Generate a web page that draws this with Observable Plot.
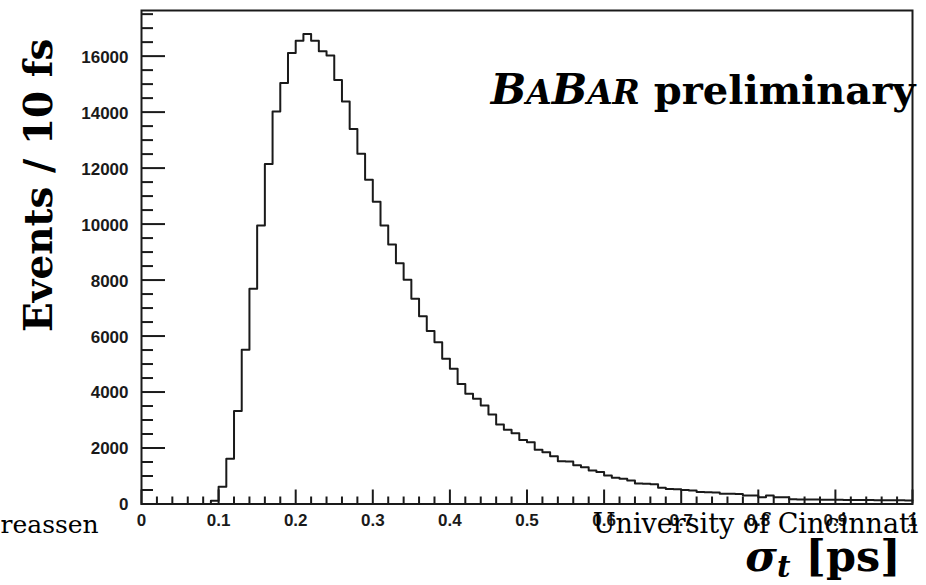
<!DOCTYPE html>
<html><head><meta charset="utf-8">
<script src="https://cdn.jsdelivr.net/npm/d3@7"></script>
<script src="https://cdn.jsdelivr.net/npm/@observablehq/plot@0.6"></script>
<style>
html,body{margin:0;padding:0;background:#fff;}
</style>
</head><body><div id="chart"></div>
<script>
// sigma_t histogram, 100 bins of 10 fs between 0 and 1 ps
const binWidth = 0.01;
const counts = [
  0, 0, 0, 0, 0, 0, 0, 0, 0, 120,
  620, 1620, 3320, 5510, 7690, 9950, 12150, 14020, 15040, 16110,
  16550, 16790, 16550, 16170, 16020, 15150, 14380, 13400, 12510, 11580,
  10800, 9950, 9270, 8600, 8010, 7330, 6710, 6180, 5780, 5190,
  4830, 4290, 3940, 3760, 3520, 3200, 2840, 2650, 2530, 2290,
  2210, 1940, 1850, 1710, 1530, 1520, 1380, 1310, 1200, 1140,
  1020, 935, 900, 840, 730, 720, 710, 580, 540, 530,
  500, 482, 425, 420, 415, 368, 364, 360, 305, 300,
  245, 300, 245, 240, 170, 165, 160, 160, 155, 150,
  150, 145, 145, 140, 140, 135, 135, 130, 130, 125
];
const yMajorTicks = [0, 2000, 4000, 6000, 8000, 10000, 12000, 14000, 16000];
const yTickLabels = ["0", "2000", "4000", "6000", "8000", "10000", "12000", "14000", "16000"];
const yMinorTicks = [500, 1000, 1500, 2500, 3000, 3500, 4500, 5000, 5500, 6500, 7000, 7500,
  8500, 9000, 9500, 10500, 11000, 11500, 12500, 13000, 13500, 14500, 15000, 15500, 16500, 17000, 17500];
const xMajorTicks = [0, 0.1, 0.2, 0.3, 0.4, 0.5, 0.6, 0.7, 0.8, 0.9, 1];
const xTickLabels = ["0", "0.1", "0.2", "0.3", "0.4", "0.5", "0.6", "0.7", "0.8", "0.9", "1"];
const xMinorTicks = [0.02, 0.04, 0.06, 0.08, 0.12, 0.14, 0.16, 0.18, 0.22, 0.24, 0.26, 0.28,
  0.32, 0.34, 0.36, 0.38, 0.42, 0.44, 0.46, 0.48, 0.52, 0.54, 0.56, 0.58, 0.62, 0.64, 0.66, 0.68,
  0.72, 0.74, 0.76, 0.78, 0.82, 0.84, 0.86, 0.88, 0.92, 0.94, 0.96, 0.98];
const yLabel = "Events / 10 fs";
const xLabel = "σt [ps]";
const banner = "BABAR preliminary";
const footLeft = "reassen";
const footRight = "University of Cincinnati";
const yMax = 17630;

const points = counts.map((c, i) => ({x: i * binWidth, y: c}));
points.push({x: counts.length * binWidth, y: counts[counts.length - 1]});

const ink = "#1a1a1a";
const tickFont = {fontFamily: "Liberation Sans, Arial, sans-serif", fontWeight: "bold", fontSize: 17};
const serif = "DejaVu Serif, serif";

const plot = Plot.plot({
  width: 926,
  height: 585,
  marginLeft: 141,
  marginRight: 14,
  marginTop: 10,
  marginBottom: 81.5,
  style: {background: "#fff", color: ink},
  x: {domain: [0, 1]},
  y: {domain: [0, yMax]},
  marks: [
    Plot.line(points, {x: "x", y: "y", curve: "step-after", stroke: ink, strokeWidth: 2}),
    // y ticks (inward)
    Plot.axisY({ticks: yMajorTicks, tickSize: -24, tickFormat: () => "", label: null, stroke: ink, strokeWidth: 2}),
    Plot.axisY({ticks: yMinorTicks, tickSize: -12, tickFormat: () => "", label: null, stroke: ink, strokeWidth: 2}),
    Plot.axisY({ticks: yMajorTicks, tickSize: 0, tickPadding: 13, dy: 1, label: null, fill: ink,
      tickFormat: d => yTickLabels[yMajorTicks.indexOf(d)], ...tickFont}),
    // x ticks (inward)
    Plot.axisX({ticks: xMajorTicks, tickSize: -14, tickFormat: () => "", label: null, stroke: ink, strokeWidth: 2}),
    Plot.axisX({ticks: xMinorTicks, tickSize: -7, tickFormat: () => "", label: null, stroke: ink, strokeWidth: 2}),
    Plot.axisX({ticks: xMajorTicks, tickSize: 0, tickPadding: 10, label: null, fill: ink,
      tickFormat: d => xTickLabels[xMajorTicks.indexOf(d)], ...tickFont}),
    Plot.frame({stroke: ink, strokeWidth: 2}),
    // y-axis title
    Plot.text([yLabel], {frameAnchor: "left", rotate: -90, dx: -90, dy: -72, lineAnchor: "bottom",
      textAnchor: "middle", fontFamily: serif, fontWeight: "bold", fontSize: 39, fill: "#000"}),
    // banner
    Plot.text([banner], {frameAnchor: "top-right", dx: 3, dy: 93, lineAnchor: "bottom", textAnchor: "end",
      fontFamily: serif, fontWeight: "bold", fontSize: 40, fill: "#000"}),
    // footer texts
    Plot.text([footLeft], {frameAnchor: "bottom-left", dx: -141, dy: 29, lineAnchor: "bottom", textAnchor: "start",
      fontFamily: serif, fontSize: 25, fill: "#000"}),
    Plot.text([footRight], {frameAnchor: "bottom-right", dx: 6, dy: 29, lineAnchor: "bottom", textAnchor: "end",
      fontFamily: serif, fontSize: 27, fill: "#000"}),
    // x-axis title
    Plot.text([xLabel], {frameAnchor: "bottom-right", dx: -12, dy: 67, lineAnchor: "bottom", textAnchor: "end",
      fontFamily: serif, fontWeight: "bold", fontSize: 43, fill: "#000"})
  ]
});

// rich-text styling for banner and x title
const svg = d3.select(plot);
svg.selectAll("text").filter(function() { return this.textContent === banner; }).each(function() {
  const t = d3.select(this);
  t.text(null);
  const parts = [["B", 1.05, "italic"], ["A", 0.82, "italic"], ["B", 1.05, "italic"], ["AR", 0.82, "italic"], [" preliminary", 1, "normal"]];
  for (const [s, k, st] of parts) t.append("tspan").attr("font-size", k + "em").attr("font-style", st).text(s);
});
svg.selectAll("text").filter(function() { return this.textContent === xLabel; }).each(function() {
  const t = d3.select(this);
  t.text(null);
  t.append("tspan").attr("font-style", "italic").text("σ");
  t.append("tspan").attr("font-style", "italic").attr("font-size", "0.68em").attr("dy", "0.22em").text("t");
  t.append("tspan").attr("dy", "-0.15em").text(" [ps]");
});

document.getElementById("chart").appendChild(plot);
</script>
</body></html>
